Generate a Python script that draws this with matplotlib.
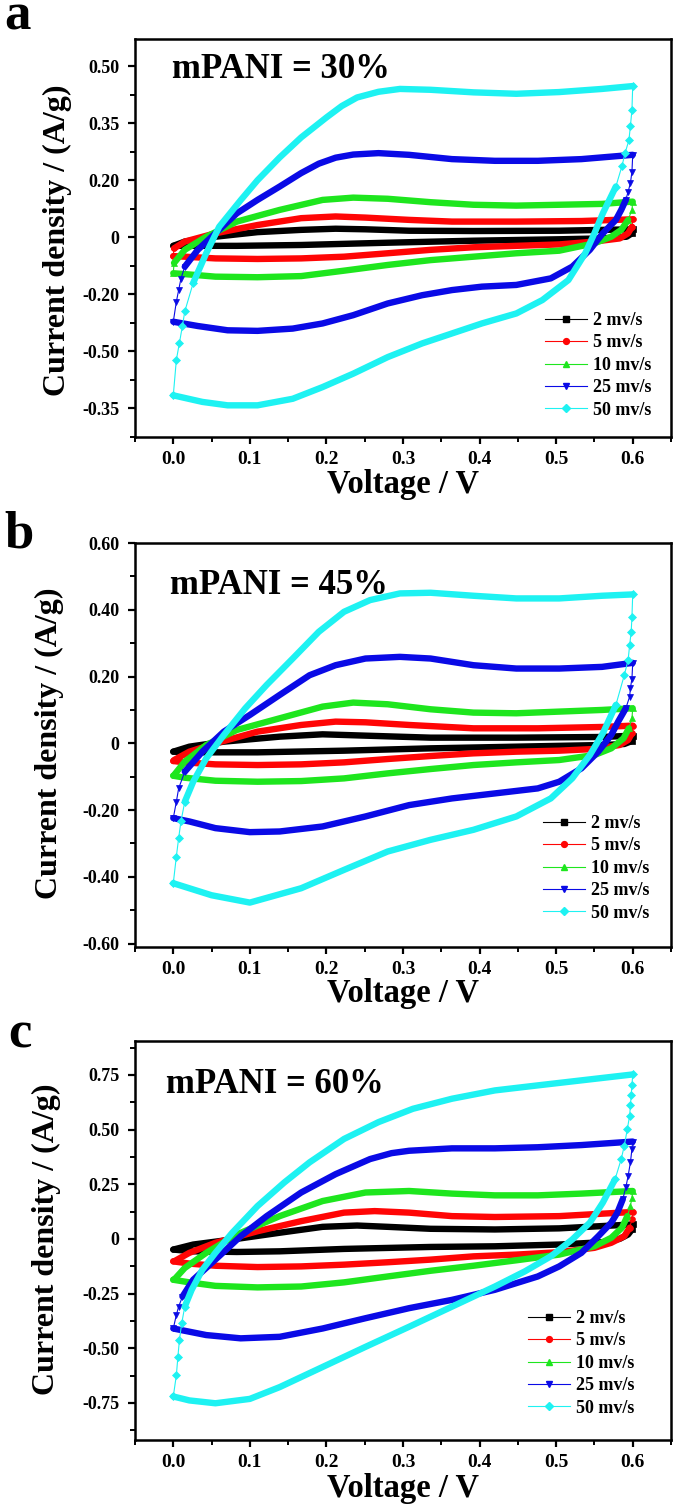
import matplotlib
matplotlib.use('Agg')
import matplotlib.pyplot as plt
from matplotlib.lines import Line2D
from matplotlib.ticker import MultipleLocator
import numpy as np

W, H, DPI = 675, 1505, 100
plt.rcParams['font.family'] = ['Liberation Serif', 'DejaVu Serif']
plt.rcParams['font.weight'] = 'bold'

# ---------------- data ----------------
SERIES = ['2 mv/s', '5 mv/s', '10 mv/s', '25 mv/s', '50 mv/s']
COLORS = ['#000000', '#ff0505', '#1ee61e', '#0a0ae6', '#1ef2f2']
MARKERS = ['s', 'o', '^', 'v', 'D']
X_TICKS = [0.0, 0.1, 0.2, 0.3, 0.4, 0.5, 0.6]
X_TICKLABELS = ['0.0', '0.1', '0.2', '0.3', '0.4', '0.5', '0.6']

# panel a (mPANI = 30%)
A_YTICKS = [0.6, 0.4, 0.2, 0.0, -0.2, -0.4, -0.6]
A_YLABELS = ['0.50', '0.35', '0.20', '0', '-0.20', '-0.50', '-0.35']
A_V2 = [0, 0.015, 0.055, 0.11, 0.167, 0.212, 0.251, 0.308, 0.392, 0.504, 0.6,
        0.599, 0.592, 0.56, 0.504, 0.392, 0.28, 0.167, 0.083, 0.015, 0]
A_I2 = [-0.03, -0.015, 0.002, 0.018, 0.026, 0.03, 0.028, 0.023, 0.022, 0.023, 0.028,
        0.014, 0.002, -0.004, -0.007, -0.012, -0.019, -0.027, -0.03, -0.03, -0.03]
A_V5 = [0, 0.001, 0.015, 0.055, 0.11, 0.167, 0.212, 0.251, 0.308, 0.364, 0.448, 0.533, 0.6,
        0.599, 0.594, 0.583, 0.55, 0.504, 0.448, 0.392, 0.336, 0.28, 0.223, 0.167, 0.11, 0.055, 0.015, 0]
A_I5 = [-0.066, -0.039, -0.015, 0.014, 0.043, 0.067, 0.073, 0.069, 0.061, 0.055, 0.055, 0.057, 0.063,
        0.037, 0.014, -0.004, -0.015, -0.025, -0.03, -0.035, -0.044, -0.056, -0.068, -0.074, -0.076, -0.074, -0.068, -0.066]
A_V10 = [0, 0.001, 0.015, 0.043, 0.083, 0.139, 0.195, 0.235, 0.28, 0.336, 0.392, 0.448, 0.504, 0.56, 0.6,
         0.599, 0.594, 0.585, 0.572, 0.55, 0.504, 0.448, 0.392, 0.336, 0.28, 0.223, 0.167, 0.11, 0.055, 0.015, 0]
A_I10 = [-0.126, -0.09, -0.044, 0.002, 0.055, 0.096, 0.131, 0.139, 0.135, 0.123, 0.114, 0.111, 0.114, 0.117, 0.125,
         0.096, 0.061, 0.026, 0.002, -0.021, -0.047, -0.056, -0.068, -0.08, -0.097, -0.117, -0.136, -0.14, -0.138, -0.129, -0.126]
A_V25 = [0, 0.004, 0.007, 0.01, 0.015, 0.032, 0.055, 0.083, 0.11, 0.139, 0.167, 0.19, 0.212, 0.235, 0.268, 0.308, 0.364, 0.42, 0.476, 0.533, 0.6,
         0.599, 0.597, 0.594, 0.591, 0.585, 0.578, 0.561, 0.544, 0.521, 0.493, 0.448, 0.403, 0.364, 0.325, 0.28, 0.235, 0.195, 0.156, 0.11, 0.071, 0.032, 0]
A_I25 = [-0.296, -0.226, -0.185, -0.145, -0.103, -0.044, 0.014, 0.084, 0.131, 0.178, 0.225, 0.258, 0.279, 0.29, 0.295, 0.289, 0.274, 0.268, 0.268, 0.274, 0.289,
         0.23, 0.19, 0.16, 0.131, 0.096, 0.061, 0.014, -0.044, -0.103, -0.144, -0.167, -0.173, -0.185, -0.203, -0.232, -0.273, -0.302, -0.32, -0.328, -0.326, -0.311, -0.296]
A_V50 = [0, 0.004, 0.008, 0.012, 0.015, 0.026, 0.043, 0.06, 0.088, 0.11, 0.139, 0.167, 0.2, 0.22, 0.24, 0.268, 0.296, 0.336, 0.392, 0.448, 0.504, 0.56, 0.6,
         0.599, 0.597, 0.595, 0.59, 0.586, 0.578, 0.561, 0.55, 0.538, 0.516, 0.482, 0.448, 0.403, 0.364, 0.325, 0.28, 0.235, 0.195, 0.156, 0.11, 0.071, 0.038, 0]
A_I50 = [-0.554, -0.43, -0.37, -0.31, -0.26, -0.16, -0.056, 0.037, 0.13, 0.2, 0.28, 0.35, 0.42, 0.46, 0.49, 0.51, 0.52, 0.517, 0.508, 0.503, 0.509, 0.52, 0.53,
         0.447, 0.39, 0.34, 0.295, 0.25, 0.178, 0.084, 0.014, -0.056, -0.15, -0.22, -0.267, -0.302, -0.337, -0.372, -0.42, -0.478, -0.525, -0.566, -0.589, -0.589, -0.577, -0.554]

# panel b (mPANI = 45%)
B_YTICKS = [0.6, 0.4, 0.2, 0.0, -0.2, -0.4, -0.6]
B_YLABELS = ['0.60', '0.40', '0.20', '0', '-0.20', '-0.40', '-0.60']
B_V2 = [0, 0.021, 0.066, 0.139, 0.195, 0.251, 0.336, 0.448, 0.56, 0.6,
        0.599, 0.589, 0.561, 0.448, 0.336, 0.223, 0.11, 0.026, 0]
B_I2 = [-0.025, -0.01, 0.005, 0.02, 0.027, 0.023, 0.017, 0.017, 0.019, 0.023,
        0.007, -0.002, -0.005, -0.01, -0.015, -0.022, -0.027, -0.027, -0.025]
B_V5 = [0, 0.001, 0.021, 0.055, 0.11, 0.167, 0.212, 0.251, 0.308, 0.392, 0.476, 0.56, 0.6,
        0.599, 0.594, 0.583, 0.55, 0.504, 0.448, 0.392, 0.336, 0.28, 0.223, 0.167, 0.11, 0.055, 0.015, 0]
B_I5 = [-0.053, -0.05, -0.025, 0.0, 0.035, 0.055, 0.065, 0.063, 0.055, 0.045, 0.045, 0.049, 0.053,
        0.03, 0.01, -0.005, -0.017, -0.022, -0.025, -0.03, -0.038, -0.047, -0.057, -0.063, -0.065, -0.063, -0.057, -0.053]
B_V10 = [0, 0.001, 0.015, 0.043, 0.083, 0.139, 0.195, 0.235, 0.28, 0.336, 0.392, 0.448, 0.504, 0.56, 0.6,
         0.599, 0.595, 0.588, 0.572, 0.55, 0.504, 0.448, 0.392, 0.336, 0.28, 0.223, 0.167, 0.11, 0.055, 0.015, 0]
B_I10 = [-0.097, -0.095, -0.055, -0.005, 0.04, 0.075, 0.11, 0.122, 0.117, 0.102, 0.092, 0.09, 0.095, 0.1, 0.105,
         0.075, 0.045, 0.015, -0.015, -0.035, -0.05, -0.057, -0.065, -0.077, -0.09, -0.105, -0.113, -0.115, -0.112, -0.103, -0.097]
B_V25 = [0, 0.004, 0.007, 0.015, 0.038, 0.066, 0.1, 0.139, 0.178, 0.212, 0.251, 0.296, 0.336, 0.392, 0.448, 0.504, 0.56, 0.6,
         0.599, 0.597, 0.596, 0.591, 0.581, 0.572, 0.555, 0.533, 0.504, 0.476, 0.42, 0.364, 0.308, 0.251, 0.195, 0.139, 0.1, 0.055, 0.021, 0]
B_I25 = [-0.224, -0.175, -0.135, -0.085, -0.025, 0.035, 0.085, 0.145, 0.204, 0.234, 0.254, 0.259, 0.254, 0.234, 0.224, 0.224, 0.229, 0.241,
         0.194, 0.165, 0.14, 0.105, 0.065, 0.025, -0.025, -0.075, -0.115, -0.135, -0.15, -0.165, -0.185, -0.219, -0.249, -0.264, -0.266, -0.254, -0.234, -0.224]
B_V50 = [0, 0.004, 0.007, 0.01, 0.015, 0.026, 0.043, 0.066, 0.094, 0.122, 0.156, 0.19, 0.223, 0.257, 0.296, 0.336, 0.392, 0.448, 0.504, 0.56, 0.6,
         0.599, 0.598, 0.596, 0.594, 0.589, 0.578, 0.561, 0.544, 0.521, 0.493, 0.448, 0.392, 0.336, 0.28, 0.223, 0.167, 0.1, 0.05, 0]
B_I50 = [-0.419, -0.339, -0.284, -0.234, -0.175, -0.115, -0.045, 0.025, 0.105, 0.175, 0.254, 0.334, 0.394, 0.429, 0.449, 0.451, 0.442, 0.434, 0.434, 0.442, 0.446,
         0.379, 0.334, 0.294, 0.25, 0.204, 0.115, 0.03, -0.035, -0.105, -0.165, -0.219, -0.259, -0.289, -0.324, -0.379, -0.434, -0.477, -0.455, -0.419]

# panel c (mPANI = 60%)
C_YTICKS = [0.75, 0.5, 0.25, 0.0, -0.25, -0.5, -0.75]
C_YLABELS = ['0.75', '0.50', '0.25', '0', '-0.25', '-0.50', '-0.75']
C_V2 = [0, 0.026, 0.083, 0.139, 0.195, 0.24, 0.28, 0.336, 0.42, 0.504, 0.6,
        0.599, 0.594, 0.583, 0.561, 0.504, 0.42, 0.336, 0.223, 0.139, 0.083, 0.026, 0]
C_I2 = [-0.049, -0.026, 0.0, 0.028, 0.055, 0.061, 0.055, 0.046, 0.043, 0.048, 0.066,
        0.043, 0.02, 0.0, -0.015, -0.026, -0.034, -0.037, -0.046, -0.057, -0.06, -0.057, -0.049]
C_V5 = [0, 0.001, 0.021, 0.055, 0.11, 0.167, 0.223, 0.263, 0.308, 0.364, 0.42, 0.504, 0.6,
        0.599, 0.596, 0.589, 0.572, 0.55, 0.504, 0.448, 0.392, 0.336, 0.28, 0.223, 0.167, 0.11, 0.055, 0.021, 0]
C_I5 = [-0.103, -0.103, -0.064, -0.018, 0.035, 0.081, 0.12, 0.127, 0.12, 0.104, 0.1, 0.104, 0.123,
        0.089, 0.051, 0.012, -0.018, -0.041, -0.061, -0.072, -0.08, -0.095, -0.107, -0.118, -0.126, -0.129, -0.123, -0.113, -0.103]
C_V10 = [0, 0.001, 0.015, 0.043, 0.083, 0.139, 0.195, 0.251, 0.308, 0.364, 0.42, 0.476, 0.533, 0.6,
         0.599, 0.597, 0.593, 0.586, 0.572, 0.55, 0.504, 0.448, 0.392, 0.336, 0.28, 0.223, 0.167, 0.11, 0.055, 0.021, 0]
C_I10 = [-0.187, -0.187, -0.133, -0.064, 0.02, 0.104, 0.173, 0.212, 0.219, 0.207, 0.199, 0.199, 0.207, 0.219,
         0.189, 0.15, 0.104, 0.051, 0.005, -0.034, -0.072, -0.098, -0.123, -0.146, -0.172, -0.199, -0.218, -0.222, -0.215, -0.199, -0.187]
C_V25 = [0, 0.004, 0.007, 0.012, 0.026, 0.055, 0.088, 0.122, 0.167, 0.212, 0.257, 0.285, 0.308, 0.364, 0.42, 0.476, 0.533, 0.6,
         0.599, 0.597, 0.594, 0.591, 0.587, 0.58, 0.572, 0.555, 0.533, 0.504, 0.476, 0.42, 0.364, 0.308, 0.251, 0.195, 0.139, 0.088, 0.043, 0]
C_I25 = [-0.41, -0.348, -0.31, -0.264, -0.187, -0.095, 0.012, 0.104, 0.212, 0.296, 0.365, 0.392, 0.403, 0.414, 0.414, 0.419, 0.429, 0.445,
         0.411, 0.35, 0.288, 0.235, 0.181, 0.12, 0.074, 0.012, -0.064, -0.126, -0.172, -0.233, -0.279, -0.317, -0.363, -0.41, -0.448, -0.455, -0.44, -0.41]
C_V50 = [0, 0.004, 0.006, 0.008, 0.011, 0.015, 0.024, 0.038, 0.055, 0.077, 0.11, 0.145, 0.178, 0.223, 0.268, 0.313, 0.364, 0.42, 0.476, 0.533, 0.6,
         0.599, 0.598, 0.597, 0.596, 0.593, 0.589, 0.585, 0.577, 0.561, 0.544, 0.521, 0.493, 0.459, 0.42, 0.364, 0.308, 0.251, 0.195, 0.139, 0.1, 0.055, 0.021, 0]
C_I50 = [-0.721, -0.624, -0.54, -0.463, -0.386, -0.31, -0.233, -0.141, -0.064, 0.028, 0.15, 0.258, 0.35, 0.457, 0.534, 0.595, 0.641, 0.679, 0.702, 0.725, 0.752,
         0.702, 0.656, 0.61, 0.564, 0.503, 0.426, 0.365, 0.273, 0.166, 0.074, -0.003, -0.08, -0.149, -0.218, -0.31, -0.402, -0.494, -0.586, -0.678, -0.732, -0.752, -0.739, -0.721]

# ---------------- layout ----------------
fig = plt.figure(figsize=(W / DPI, H / DPI), dpi=DPI)


def rect(l, t, r, b):
    return [l / W, 1 - b / H, (r - l) / W, (b - t) / H]


def draw_loop(ax, v, i, color, marker, z):
    v = np.asarray(v, float)
    i = np.asarray(i, float)
    pts = ax.transData.transform(np.column_stack([v, i]))
    dx = np.abs(np.diff(pts[:, 0]))
    dy = np.abs(np.diff(pts[:, 1]))
    steep = dy > 2.6 * dx + 1e-9
    ax.plot(v, i, color=color, lw=0.8, zorder=z)
    n = len(steep)
    k = 0
    while k < n:
        if not steep[k]:
            j = k
            while j < n and not steep[j]:
                j += 1
            ax.plot(v[k:j + 1], i[k:j + 1], color=color, lw=4.6,
                    solid_capstyle='round', solid_joinstyle='round', zorder=z)
            k = j
        else:
            k += 1
    idx = sorted({m for k in range(n) if steep[k] for m in (k, k + 1)})
    ax.plot(v[idx], i[idx], ls='none', marker=marker, ms=4.2, color=color,
            mec=color, mew=0.5, zorder=z)


panels = [
    dict(box=(135, 39, 671, 437), ylim=(-0.70, 0.695), yt=A_YTICKS, yl=A_YLABELS, ymin=0.1,
         data=[(A_V2, A_I2), (A_V5, A_I5), (A_V10, A_I10), (A_V25, A_I25), (A_V50, A_I50)],
         letter='a', letter_xy=(4, 29), title='mPANI = 30%', title_xy=(172, 78),
         ylab_xy=(57, 240), xlab_y=493, leg_xy=(545, 312)),
    dict(box=(135, 543, 671, 947), ylim=(-0.61, 0.60), yt=B_YTICKS, yl=B_YLABELS, ymin=0.1,
         data=[(B_V2, B_I2), (B_V5, B_I5), (B_V10, B_I10), (B_V25, B_I25), (B_V50, B_I50)],
         letter='b', letter_xy=(4, 547), title='mPANI = 45%', title_xy=(170, 594),
         ylab_xy=(49, 743), xlab_y=1002, leg_xy=(543, 815)),
    dict(box=(135, 1041, 671, 1440), ylim=(-0.92, 0.905), yt=C_YTICKS, yl=C_YLABELS, ymin=0.125,
         data=[(C_V2, C_I2), (C_V5, C_I5), (C_V10, C_I10), (C_V25, C_I25), (C_V50, C_I50)],
         letter='c', letter_xy=(8, 1048), title='mPANI = 60%', title_xy=(166, 1093),
         ylab_xy=(46, 1239), xlab_y=1497, leg_xy=(528, 1310)),
]

for p in panels:
    ax = fig.add_axes(rect(*p['box']))
    ax.set_xlim(-0.05, 0.65)
    ax.set_ylim(*p['ylim'])
    for s in ax.spines.values():
        s.set_linewidth(1.8)
    ax.set_xticks(X_TICKS, X_TICKLABELS)
    ax.set_yticks(p['yt'], p['yl'])
    ax.xaxis.set_minor_locator(MultipleLocator(0.05))
    ax.yaxis.set_minor_locator(MultipleLocator(p['ymin']))
    ax.tick_params(which='major', direction='out', length=5, width=1.6)
    ax.tick_params(which='minor', direction='out', length=3.5, width=1.4)
    ax.tick_params(axis='x', labelsize=14, pad=5)
    ax.tick_params(axis='y', labelsize=13, pad=6)
    for lab in ax.get_xticklabels() + ax.get_yticklabels():
        lab.set_fontweight('bold')

    for (v, i), c, m, z in zip(p['data'], COLORS, MARKERS, range(2, 7)):
        draw_loop(ax, v, i, c, m, z)

    handles = [Line2D([], [], color=c, lw=0.8, marker=m, ms=4.2, mec=c)
               for c, m in zip(COLORS, MARKERS)]
    lx, ly = p['leg_xy']
    ax.legend(handles, SERIES, loc='upper left',
              bbox_to_anchor=(lx / W, 1 - ly / H), bbox_transform=fig.transFigure,
              frameon=False, handlelength=2.3, handletextpad=0.35,
              labelspacing=0.3, borderpad=0, borderaxespad=0,
              prop={'weight': 'bold', 'size': 13})

    tx, ty = p['title_xy']
    fig.text(tx / W, 1 - ty / H, p['title'], fontsize=25, fontweight='bold',
             ha='left', va='baseline')
    lx2, ly2 = p['letter_xy']
    fig.text(lx2 / W, 1 - ly2 / H, p['letter'], fontsize=38, fontweight='bold',
             ha='left', va='baseline')
    yx, yy = p['ylab_xy']
    fig.text(yx / W, 1 - yy / H, 'Current density / (A/g)', fontsize=23,
             fontweight='bold', rotation=90, ha='center', va='center')
    fig.text(403 / W, 1 - p['xlab_y'] / H, 'Voltage / V', fontsize=23.5,
             fontweight='bold', ha='center', va='baseline')

fig.savefig('out.png', dpi=DPI)
